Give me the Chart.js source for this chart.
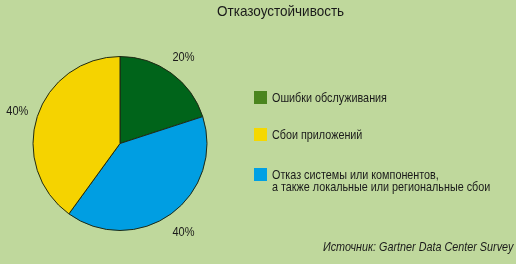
<!DOCTYPE html>
<html>
<head>
<meta charset="utf-8">
<script src="https://cdn.jsdelivr.net/npm/chart.js@4"></script>
<style>
  html, body { margin: 0; padding: 0; }
  body { width: 516px; height: 264px; background: #bfd89c; position: relative; overflow: hidden;
         font-family: "Liberation Sans", Arial, sans-serif; color: #1a1a1a; }
  #wrap { position: absolute; left: 0; top: 0; width: 516px; height: 264px; }
  #title { position: absolute; left: 217px; top: 2px; font-size: 15px; white-space: nowrap;
           transform: scaleX(0.9); transform-origin: 0 0; }
  .leg { position: absolute; left: 254px; font-size: 13px; line-height: 12px; }
  .leg .box { position: absolute; left: 0; top: 0; width: 13px; height: 13px; }
  .leg .txt { position: absolute; left: 18px; top: 1px; white-space: nowrap;
              transform: scaleX(0.83); transform-origin: 0 0; }
  #source { position: absolute; right: 3px; top: 239px; font-size: 13px; font-style: italic; white-space: nowrap;
            transform: scaleX(0.83); transform-origin: 100% 0; }
</style>
</head>
<body>
<div id="wrap"><canvas id="chart" width="516" height="264"></canvas></div>
<div id="title">Отказоустойчивость</div>
<div id="legend"></div>
<div id="source">Источник: Gartner Data Center Survey</div>
<script>
const categories = ["Ошибки обслуживания", "Сбои приложений", "Отказ системы или компонентов,\nа также локальные или региональные сбои"];
const sliceOrder = [0, 2, 1];
const values = [20, 40, 40];
const pieColors = ["#00641a", "#009ee2", "#f5d300"];
const legendColors = ["#4a851e", "#f5d800", "#00a0e4"];
const legendTops = [91, 128, 168];

// legend
const legend = document.getElementById("legend");
legend.innerHTML = categories.map((c, i) => `
  <div class="leg" style="top:${legendTops[i]}px">
    <div class="box" style="background:${legendColors[i]}"></div>
    <div class="txt">${c.replace("\n", "<br>")}</div>
  </div>`).join("");

const pctLabels = {
  id: "pctLabels",
  afterDatasetsDraw(chart) {
    const ctx = chart.ctx;
    const meta = chart.getDatasetMeta(0);
    ctx.save();
    ctx.font = "12.5px 'Liberation Sans', Arial, sans-serif";
    ctx.fillStyle = "#1a1a1a";
    ctx.textAlign = "center";
    ctx.textBaseline = "middle";
    meta.data.forEach((arc, i) => {
      const mid = (arc.startAngle + arc.endAngle) / 2;
      const r = arc.outerRadius + 21;
      const x = arc.x + Math.cos(mid) * r;
      const y = arc.y + Math.sin(mid) * r + 1.5;
      ctx.save();
      ctx.translate(x, y);
      ctx.scale(0.88, 1);
      ctx.fillText(chart.data.datasets[0].data[i] + "%", 0, 0);
      ctx.restore();
    });
    ctx.restore();
  }
};

new Chart(document.getElementById("chart"), {
  type: "pie",
  data: {
    labels: sliceOrder.map(i => categories[i]),
    datasets: [{
      data: values,
      backgroundColor: pieColors,
      borderColor: "#1f2a14",
      borderWidth: 1
    }]
  },
  options: {
    responsive: false,
    animation: false,
    layout: { padding: { left: 32, right: 308, top: 56, bottom: 33 } },
    plugins: { legend: { display: false }, tooltip: { enabled: false } }
  },
  plugins: [pctLabels]
});
</script>
</body>
</html>
